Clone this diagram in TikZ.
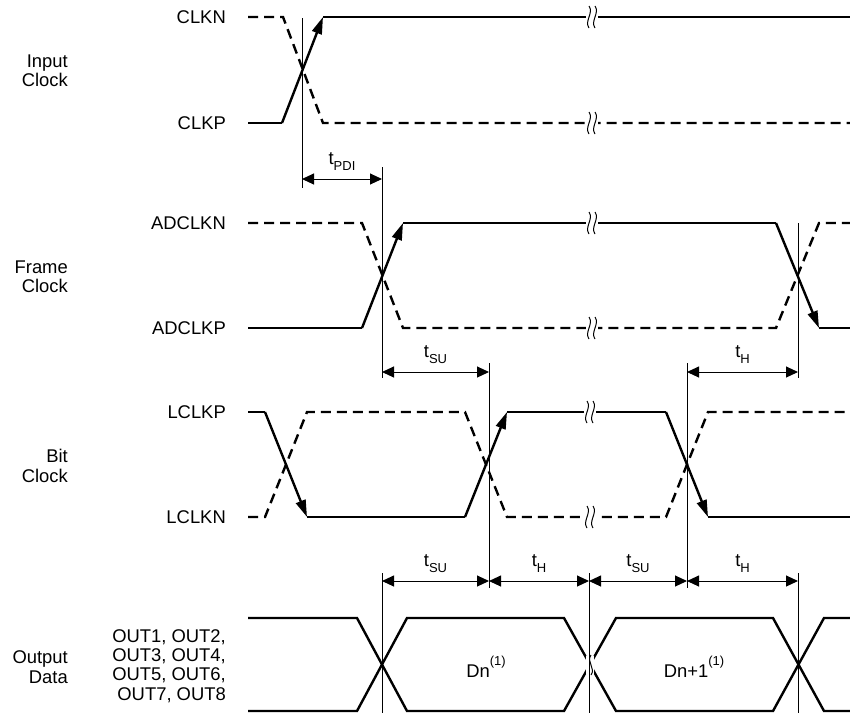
\documentclass[tikz,border=0pt]{standalone}
\usepackage{fontspec}
\setmainfont{Liberation Sans}
\usetikzlibrary{arrows.meta}
\newcommand{\tsub}[1]{\raisebox{-0.32em}{\fontsize{13}{13}\selectfont #1}}
\newcommand{\tsup}[1]{\raisebox{0.62em}{\fontsize{13}{13}\selectfont #1}}
\tikzstyle{sig}=[line width=2.4pt]
\tikzstyle{sigdash}=[sig, dash pattern=on 10pt off 6pt]
\tikzstyle{sigtip}=[sig, -{Triangle[length=17pt,width=10pt]}]
\tikzstyle{guide}=[line width=1pt]
\tikzstyle{dim}=[line width=1pt, {Triangle[length=12pt,width=11pt]}-{Triangle[length=12pt,width=11pt]}]
\tikzstyle{lbl}=[inner sep=0pt, anchor=east, align=right, font=\fontsize{18.4}{19.3}\selectfont]
\tikzstyle{dimlbl}=[midway, above=8pt, inner sep=0pt, font=\fontsize{18.4}{19.3}\selectfont]
\tikzset{brk/.pic={
  \fill[white] (-6,-11) rectangle (6,11);
  \foreach \o in {-3,3}
    \draw[line width=1pt] (\o,11) .. controls (\o-5,4) and (\o+5,-4) .. (\o,-11);
}}

\begin{document}
\begin{tikzpicture}[x=1pt,y=-1pt]
\useasboundingbox (0,0) rectangle (850,713);

% group labels
\node (inclk) at (68,71) [lbl] {Input\\Clock};
\node (frclk) at (68,277) [lbl] {Frame\\Clock};
\node (bitclk) at (68,466) [lbl] {Bit\\Clock};
\node (outdat) at (68,667) [lbl] {Output\\Data};

% signal names
\node (clkn) at (226,17) [lbl] {CLKN};
\node (clkp) at (226,123) [lbl] {CLKP};
\node (adclkn) at (226,223) [lbl] {ADCLKN};
\node (adclkp) at (226,328) [lbl] {ADCLKP};
\node (lclkp) at (226,412) [lbl] {LCLKP};
\node (lclkn) at (226,517) [lbl] {LCLKN};
\node (outs) at (226,666) [lbl] {OUT1, OUT2,\\OUT3, OUT4,\\OUT5, OUT6,\\OUT7, OUT8};

% input clock
\draw[sigdash] (248,17) -- (283,17) -- (323,123) -- (850,123);
\draw[sig] (248,123) -- (282,123);
\draw[sigtip] (282,123) -- (323,17);
\draw[sig] (323,17) -- (850,17);
\pic at (592,17) {brk};
\pic at (592,123) {brk};

% frame clock
\draw[sigdash] (248,223) -- (362,223) -- (403,328) -- (776,328) -- (819,223) -- (850,223);
\draw[sig] (248,328) -- (362,328);
\draw[sigtip] (362,328) -- (403,223);
\draw[sig] (403,223) -- (776,223);
\draw[sigtip] (776,223) -- (819,328);
\draw[sig] (819,328) -- (850,328);
\pic at (592,223) {brk};
\pic at (592,328) {brk};

% bit clock
\draw[sigdash] (248,517) -- (265,517) -- (307,412) -- (465,412) -- (507,517) -- (666,517) -- (708,412) -- (850,412);
\draw[sig] (248,412) -- (265,412);
\draw[sigtip] (265,412) -- (307,517);
\draw[sig] (307,517) -- (465,517);
\draw[sigtip] (465,517) -- (507,412);
\draw[sig] (507,412) -- (666,412);
\draw[sigtip] (666,412) -- (708,517);
\draw[sig] (708,517) -- (850,517);
\pic at (590,412) {brk};
\pic at (590,517) {brk};

% output data
\draw[sig] (248,618) -- (357,618) -- (407,711) -- (564,711) -- (616,618) -- (773,618) -- (824,711) -- (850,711);
\draw[sig] (248,711) -- (357,711) -- (407,618) -- (564,618) -- (616,711) -- (773,711) -- (824,618) -- (850,618);
\node (dn) at (486,677) [anchor=base, inner sep=0pt, font=\fontsize{18.4}{19.3}\selectfont] {Dn\tsup{(1)}};
\node (dn1) at (694,677) [anchor=base, inner sep=0pt, font=\fontsize{18.4}{19.3}\selectfont] {Dn+1\tsup{(1)}};

% guides
\draw[guide] (302,18) -- (302,188);
\draw[guide] (382,167) -- (382,378);
\draw[guide] (382,573) -- (382,713);
\draw[guide] (489,363) -- (489,588);
\draw[guide] (687,363) -- (687,588);
\draw[guide] (798,223) -- (798,378);
\draw[guide] (798,573) -- (798,713);
\fill[white] (586,656) rectangle (594,674);
\draw[guide] (589,573) -- (589,713);
\draw[line width=1pt] (591,655) .. controls (586,662) and (596,668) .. (591,675);

% timing
\draw[dim] (302,179) -- (382,179) node[dimlbl] {t\tsub{PDI}};
\draw[dim] (382,372) -- (489,372) node[dimlbl] {t\tsub{SU}};
\draw[dim] (687,372) -- (798,372) node[dimlbl] {t\tsub{H}};
\draw[dim] (382,581) -- (489,581) node[dimlbl] {t\tsub{SU}};
\draw[dim] (489,581) -- (589,581) node[dimlbl] {t\tsub{H}};
\draw[dim] (589,581) -- (687,581) node[dimlbl] {t\tsub{SU}};
\draw[dim] (687,581) -- (798,581) node[dimlbl] {t\tsub{H}};
\end{tikzpicture}
\end{document}
